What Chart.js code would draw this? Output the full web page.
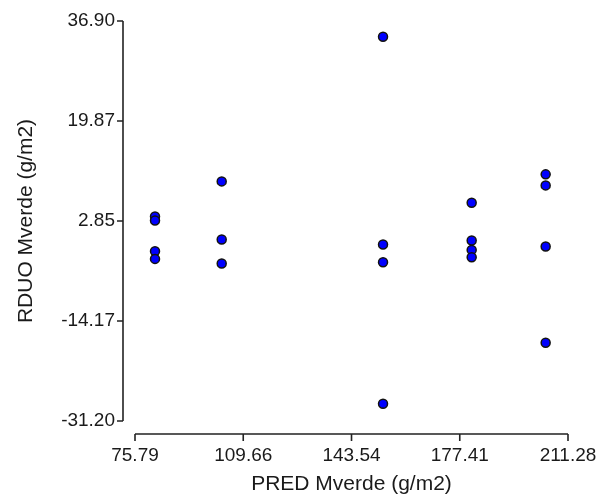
<!DOCTYPE html>
<html>
<head>
<meta charset="utf-8">
<script src="https://cdn.jsdelivr.net/npm/chart.js@4.4.0/dist/chart.umd.min.js"></script>
<style>
  html, body { margin: 0; padding: 0; background: #fff; }
  #chart { display: block; }
</style>
</head>
<body>
<canvas id="chart" width="616" height="499"></canvas>
<script>
// valores
const predMverde = [
  82.05, 82.05, 82.05, 82.05,
  102.92, 102.92, 102.92,
  153.4, 153.4, 153.4, 153.4,
  181.14, 181.14, 181.14, 181.14,
  204.29, 204.29, 204.29, 204.29
];
const rduoMverde = [
  3.62, 2.94, -2.30, -3.60,
  9.59, -0.31, -4.40,
  34.22, -1.16, -4.18, -28.25,
  5.96, -0.48, -2.07, -3.33,
  10.79, 8.91, -1.50, -17.89
];

const xTicks = [75.79, 109.66, 143.54, 177.41, 211.28];
const yTicks = [-31.20, -14.17, 2.85, 19.87, 36.90];

const xTitle = "PRED Mverde (g/m2)";
const yTitle = "RDUO Mverde (g/m2)";

Chart.defaults.font.family = "'Liberation Sans', Arial, sans-serif";
Chart.defaults.color = "#1a1a1a";

const points = predMverde.map((x, i) => ({ x: x, y: rduoMverde[i] }));

// desenha os eixos deslocados (estilo Prism)
const offsetAxes = {
  id: "offsetAxes",
  afterDraw(chart) {
    const ctx = chart.ctx;
    const xs = chart.scales.x;
    const ys = chart.scales.y;
    const area = chart.chartArea;
    const yAxisX = area.left - 12;
    const xAxisY = area.bottom + 13;
    ctx.save();
    ctx.strokeStyle = "#222";
    ctx.lineWidth = 1.6;
    ctx.beginPath();
    ctx.moveTo(yAxisX, ys.getPixelForValue(yTicks[yTicks.length - 1]));
    ctx.lineTo(yAxisX, ys.getPixelForValue(yTicks[0]));
    yTicks.forEach((v) => {
      const py = ys.getPixelForValue(v);
      ctx.moveTo(yAxisX - 6, py);
      ctx.lineTo(yAxisX, py);
    });
    ctx.moveTo(xs.getPixelForValue(xTicks[0]), xAxisY);
    ctx.lineTo(xs.getPixelForValue(xTicks[xTicks.length - 1]), xAxisY);
    xTicks.forEach((v) => {
      const px = xs.getPixelForValue(v);
      ctx.moveTo(px, xAxisY);
      ctx.lineTo(px, xAxisY + 7);
    });
    ctx.stroke();
    ctx.restore();
  },
};

new Chart(document.getElementById("chart"), {
  type: "scatter",
  data: {
    datasets: [
      {
        data: points,
        backgroundColor: "#0000ff",
        borderColor: "#111",
        borderWidth: 1.5,
        pointRadius: 4.5,
        pointHoverRadius: 4.5,
      },
    ],
  },
  options: {
    responsive: false,
    animation: false,
    layout: { padding: { top: 21, right: 48, left: 0, bottom: 0 } },
    plugins: {
      legend: { display: false },
      tooltip: { enabled: false },
    },
    scales: {
      x: {
        type: "linear",
        min: xTicks[0],
        max: xTicks[xTicks.length - 1],
        afterBuildTicks: (s) => { s.ticks = xTicks.map((v) => ({ value: v })); },
        afterFit: (s) => {
          s.height = 78;
          s.paddingLeft = 0;
          s.paddingRight = 0;
        },
        grid: { display: false, drawTicks: false },
        border: { display: false },
        ticks: {
          padding: 23,
          font: { size: 19 },
          callback: (v) => Number(v).toFixed(2),
          maxRotation: 0,
        },
        title: {
          display: true,
          text: xTitle,
          font: { size: 21 },
          padding: { top: 0, bottom: 2 },
        },
      },
      y: {
        type: "linear",
        min: yTicks[0],
        max: yTicks[yTicks.length - 1],
        afterBuildTicks: (s) => { s.ticks = yTicks.map((v) => ({ value: v })); },
        afterFit: (s) => {
          s.width = 135;
          s.paddingTop = 0;
          s.paddingBottom = 0;
        },
        grid: { display: false, drawTicks: false },
        border: { display: false },
        ticks: {
          padding: 20,
          font: { size: 19 },
          callback: (v) => Number(v).toFixed(2),
        },
        title: {
          display: true,
          text: yTitle,
          font: { size: 21 },
          padding: { top: 14, bottom: 0 },
        },
      },
    },
  },
  plugins: [offsetAxes],
});
</script>
</body>
</html>
